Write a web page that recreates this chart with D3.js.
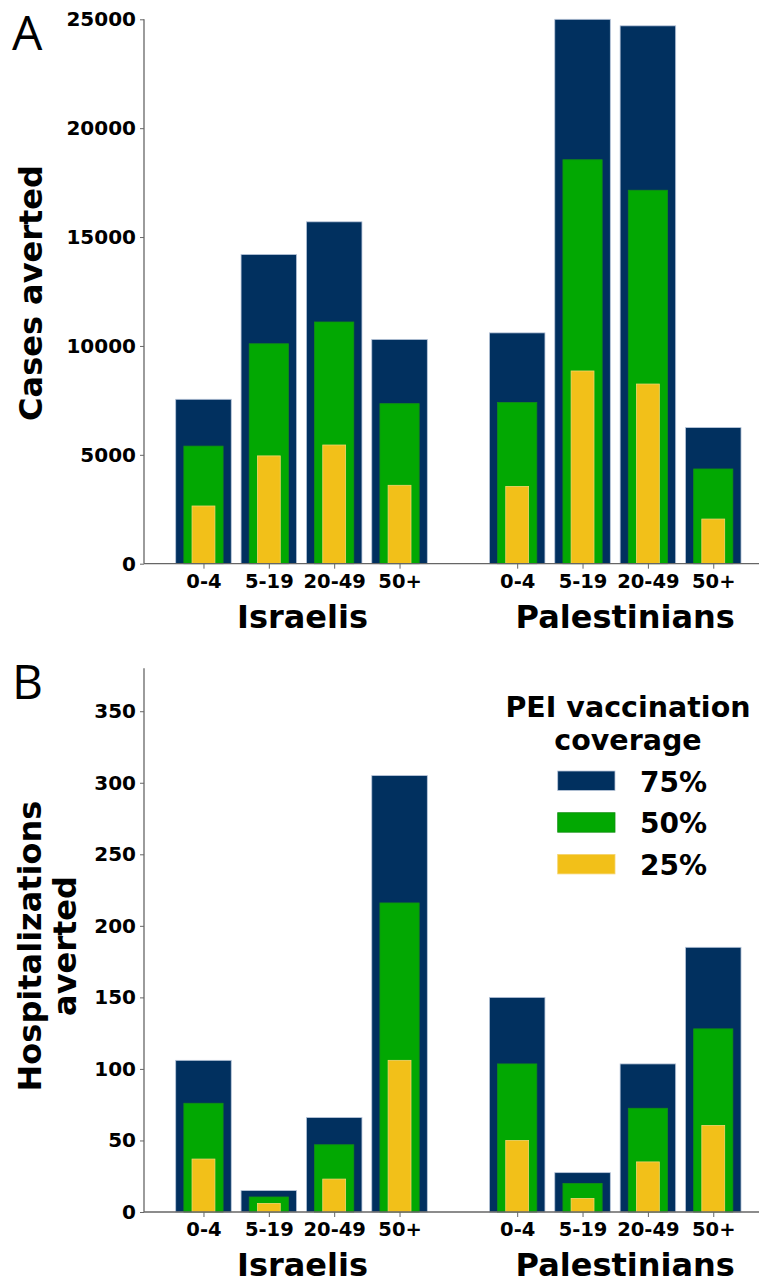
<!DOCTYPE html>
<html>
<head>
<meta charset="utf-8">
<script src="https://cdn.jsdelivr.net/npm/d3@7"></script>
<style>
  html, body { margin: 0; padding: 0; background: #fff; }
  svg { display: block; }
  text { font-family: "DejaVu Sans", sans-serif; }
  .tick text { font-weight: bold; fill: #000; }
  .domain, .tick line { stroke: #666; }
</style>
</head>
<body>
<svg id="chart" width="759" height="1283"></svg>
<script>
// Population groups and age bands along the x axis
const populations = ["Israelis", "Palestinians"];
const ageBands = ["0-4", "5-19", "20-49", "50+"];
const coverageLevels = ["75%", "50%", "25%"];

// Cases averted per age band (Israelis 0-4..50+, then Palestinians 0-4..50+)
const cases75 = [7550, 14200, 15700, 10300, 10600, 25000, 24700, 6250];
const cases50 = [5400, 10100, 11100, 7350, 7400, 18550, 17150, 4350];
const cases25 = [2650, 4950, 5450, 3600, 3550, 8850, 8250, 2050];

// Hospitalizations averted, same ordering
const hosp75 = [106, 15, 66, 305, 150, 27.5, 103.5, 185];
const hosp50 = [76, 10.5, 47, 216, 103.5, 20, 72.5, 128];
const hosp25 = [37, 6, 23, 106, 50, 9.5, 35, 60.5];

const casesTicks = [0, 5000, 10000, 15000, 20000, 25000];
const hospTicks = [0, 50, 100, 150, 200, 250, 300, 350];

const colors = { "75%": "#01305f", "50%": "#02a802", "25%": "#f2c019" };
const edges = { "75%": "#b9c6da", "50%": "#138f13", "25%": "#f6d46e" };
const widths = { "75%": 0.85, "50%": 0.6, "25%": 0.35 };

const svg = d3.select("#chart");

// slot positions: four bands per population with a wider gap between populations
const groupGap = 0.8;
const slots = [];
populations.forEach((p, gi) => ageBands.forEach((a, ai) => {
  slots.push({ pop: p, age: a, pos: gi * (ageBands.length + groupGap) + ai });
}));

const x = d3.scaleLinear().domain([-0.91, 8.5]).range([144, 759]);

function panel(cfg) {
  const y = d3.scaleLinear().domain([0, cfg.ymax]).range([cfg.bottom, cfg.top]);
  const g = svg.append("g");

  const seriesList = [
    { key: "75%", vals: cfg.s75 },
    { key: "50%", vals: cfg.s50 },
    { key: "25%", vals: cfg.s25 }
  ];

  seriesList.forEach(s => {
    const w = widths[s.key] * (x(1) - x(0));
    g.append("g").selectAll("rect")
      .data(slots.map((d, i) => ({ pos: d.pos, v: s.vals[i] })))
      .join("rect")
      .attr("x", d => x(d.pos) - w / 2)
      .attr("width", w)
      .attr("y", d => y(d.v))
      .attr("height", d => y(0) - y(d.v))
      .attr("fill", colors[s.key])
      .attr("stroke", edges[s.key])
      .attr("stroke-width", 0.8);
  });

  // y axis
  const ya = g.append("g")
    .attr("transform", "translate(144,0)")
    .call(d3.axisLeft(y).tickValues(cfg.ticks).tickSize(4).tickPadding(4).tickFormat(d3.format("d")));
  ya.selectAll(".tick text").style("font-size", "20px");
  ya.select(".domain").attr("d", `M0,${cfg.top}V${cfg.bottom}`).attr("stroke-width", 1.3);

  // x axis
  const xa = g.append("g")
    .attr("transform", `translate(0,${cfg.bottom})`)
    .call(d3.axisBottom(x).tickValues(slots.map(d => d.pos)).tickSize(5).tickPadding(5)
      .tickFormat((d, i) => slots[i].age));
  xa.selectAll(".tick text").style("font-size", "19.5px");
  xa.select(".domain").attr("d", "M144,0H759").attr("stroke-width", 1.3);

  // population labels
  populations.forEach((p, gi) => {
    const ps = slots.filter(d => d.pop === p);
    const cx = (x(ps[0].pos) + x(ps[ps.length - 1].pos)) / 2 + (gi === 1 ? 10 : 1);
    g.append("text")
      .attr("x", cx).attr("y", cfg.bottom + 64)
      .attr("text-anchor", "middle")
      .style("font-size", "32px").style("font-weight", "bold")
      .text(p);
  });

  // y axis title
  const yt = g.append("text")
    .attr("transform", `translate(${cfg.titleX},${cfg.titleMid}) rotate(-90)`)
    .attr("text-anchor", "middle")
    .style("font-size", "32px").style("font-weight", "bold");
  cfg.title.forEach((line, i) => {
    yt.append("tspan").attr("x", 0).attr("y", i * 35).text(line);
  });

  // panel letter
  g.append("text")
    .attr("x", 12).attr("y", cfg.letterY)
    .style("font-family", "'Open Sans', sans-serif")
    .style("font-size", "48px")
    .text(cfg.letter);

  return { g, y };
}

panel({
  top: 19.3, bottom: 563.7, ymax: 25000, ticks: casesTicks,
  s75: cases75, s50: cases50, s25: cases25,
  title: ["Cases averted"], titleX: 42, titleMid: 293,
  letter: "A", letterY: 50
});

panel({
  top: 668.3, bottom: 1212, ymax: 380, ticks: hospTicks,
  s75: hosp75, s50: hosp50, s25: hosp25,
  title: ["Hospitalizations", "averted"], titleX: 41, titleMid: 946,
  letter: "B", letterY: 699
});

// legend for vaccination coverage
const legend = svg.append("g");
["PEI vaccination", "coverage"].forEach((t, i) => {
  legend.append("text")
    .attr("x", 628).attr("y", 716.5 + i * 33)
    .attr("text-anchor", "middle")
    .style("font-size", "28.5px").style("font-weight", "bold")
    .text(t);
});
coverageLevels.forEach((c, i) => {
  const yy = 771 + i * 41.7;
  legend.append("rect")
    .attr("x", 557.7).attr("y", yy).attr("width", 57.3).attr("height", 19.5)
    .attr("fill", colors[c]).attr("stroke", edges[c]).attr("stroke-width", 0.8);
  legend.append("text")
    .attr("x", 640).attr("y", yy + 20.5)
    .style("font-size", "28px").style("font-weight", "bold")
    .text(c);
});
</script>
</body>
</html>
